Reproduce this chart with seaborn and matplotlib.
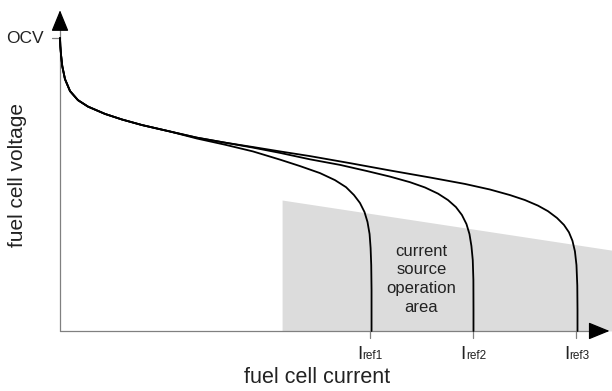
#!/usr/bin/env python3
"""Fuel cell polarization curves with the current source operation area."""
import pandas as pd
import seaborn as sns
import matplotlib.pyplot as plt

sns.set_theme(style="white")
plt.rcParams['font.family'] = ['Liberation Sans', 'DejaVu Sans']

# shared start of the three curves (current, voltage), OCV = 1
common_i = [0.000, 0.003, 0.010, 0.022, 0.048, 0.097, 0.174, 0.271, 0.436,
            0.600, 0.794, 1.065]
common_v = [1.000, 0.973, 0.942, 0.904, 0.860, 0.819, 0.788, 0.766, 0.741,
            0.722, 0.703, 0.681]

# tails after the curves split
tail1_i = [1.326, 1.597, 1.868, 2.130, 2.323, 2.517, 2.662, 2.769, 2.846,
           2.904, 2.948, 2.977, 2.997, 3.007, 3.013, 3.016, 3.016]
tail1_v = [0.657, 0.636, 0.613, 0.585, 0.563, 0.539, 0.515, 0.491, 0.464,
           0.437, 0.406, 0.372, 0.331, 0.283, 0.225, 0.140, 0.000]
tail2_i = [1.326, 1.597, 1.868, 2.130, 2.420, 2.711, 2.972, 3.195, 3.388,
           3.533, 3.659, 3.756, 3.833, 3.891, 3.935, 3.964, 3.983, 3.996,
           4.002, 4.003, 4.003]
tail2_v = [0.660, 0.643, 0.626, 0.608, 0.586, 0.567, 0.546, 0.527, 0.508,
           0.490, 0.469, 0.447, 0.423, 0.396, 0.365, 0.331, 0.290, 0.242,
           0.174, 0.072, 0.000]
tail3_i = [1.326, 1.597, 1.868, 2.130, 2.420, 2.807, 3.195, 3.582, 3.920,
           4.162, 4.356, 4.501, 4.627, 4.724, 4.811, 4.879, 4.927, 4.961,
           4.985, 5.000, 5.008, 5.010, 5.010]
tail3_v = [0.660, 0.643, 0.628, 0.613, 0.597, 0.573, 0.548, 0.524, 0.502,
           0.483, 0.464, 0.447, 0.428, 0.409, 0.386, 0.362, 0.337, 0.308,
           0.272, 0.225, 0.155, 0.072, 0.000]

iref = [3.0, 4.0, 5.0]
iref_names = ['ref1', 'ref2', 'ref3']

# shaded current source operation area
area_i = [2.15, 5.34]
area_top = [0.447, 0.276]

rows = []
for name, ti, tv in [('c1', tail1_i, tail1_v), ('c2', tail2_i, tail2_v),
                     ('c3', tail3_i, tail3_v)]:
    for i, v in zip(common_i + ti, common_v + tv):
        rows.append({'curve': name, 'current': i, 'voltage': v})
df = pd.DataFrame(rows)

fig = plt.figure(figsize=(6.12, 3.91), dpi=100)
ax = fig.add_axes([0, 0, 1, 1])
ax.set_xlim(-0.581, 5.344)
ax.set_ylim(-0.205, 1.130)
ax.axis('off')

ax.fill_between(area_i, 0, area_top, color='#dcdcdc', lw=0, zorder=1)

sns.lineplot(data=df, x='current', y='voltage', units='curve', estimator=None,
             sort=False, color='black', lw=1.3, ax=ax, zorder=3)

# axes with arrow heads
axc = '#808080'
ax.plot([0, 5.2], [0, 0], color=axc, lw=0.9, zorder=2)
ax.plot([0, 0], [0, 1.05], color=axc, lw=0.9, zorder=2)
ax.annotate('', xy=(5.32, 0), xytext=(5.15, 0),
            arrowprops=dict(arrowstyle='-|>,head_length=1.1,head_width=0.45',
                            color='black', lw=0.9, shrinkA=0, shrinkB=0))
ax.annotate('', xy=(0, 1.095), xytext=(0, 1.03),
            arrowprops=dict(arrowstyle='-|>,head_length=1.1,head_width=0.45',
                            color='black', lw=0.9, shrinkA=0, shrinkB=0))

# OCV tick
ax.plot([-0.08, 0], [1.0, 1.0], color=axc, lw=0.9)
ax.text(-0.16, 1.0, 'OCV', ha='right', va='center', fontsize=12.5, color='#222222')

# current reference ticks and labels
for x, nm in zip(iref, iref_names):
    ax.plot([x, x], [0, -0.024], color=axc, lw=0.9)
    ax.annotate('I', xy=(x, -0.0956), xytext=(-7.2, 0), textcoords='offset points',
                ha='center', va='baseline', fontsize=13.5, color='#222222')
    ax.annotate(nm, xy=(x, -0.0956), xytext=(-5.2, 0), textcoords='offset points',
                ha='left', va='baseline', fontsize=8.5, color='#222222')

ax.text(3.498, 0.177, 'current\nsource\noperation\narea', ha='center', va='center',
        fontsize=12, linespacing=1.3, color='#222222')

ax.text(2.49, -0.160, 'fuel cell current', ha='center', va='center', fontsize=15.5,
        color='#222222')
ax.text(-0.41, 0.532, 'fuel cell voltage', ha='center', va='center', rotation=90,
        fontsize=15, color='#222222')

fig.savefig('out.png', dpi=100)
